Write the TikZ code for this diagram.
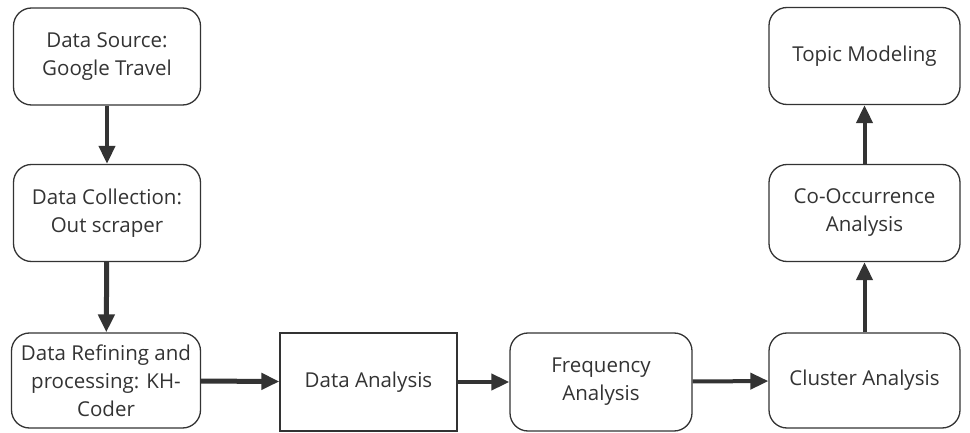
\documentclass[tikz,border=0pt]{standalone}
\usepackage{fontspec}
\setmainfont{Open Sans}
\usetikzlibrary{arrows.meta}
\definecolor{ink}{HTML}{333333}

\begin{document}
\begin{tikzpicture}
[x=1pt,y=-1pt,%
  every node/.style={draw=ink,line width=1.3pt,text=ink,align=center,%
    minimum width=187pt,minimum height=97pt,inner sep=2pt,%
    font=\fontsize{20.5}{28}\selectfont},%
  box/.style={rounded corners=18pt},%
  flow/.style={-{Triangle[length=18pt,width=16pt]},line width=4pt,draw=ink}]
\useasboundingbox (0,0) rectangle (970,433);
% left column, top to bottom
\node[box] (source) at (107,56.5) {Data Source:\\Google Travel};
\node[box] (collect) at (107,213) {Data Collection:\\Out scraper};
\node[box,minimum width=189pt,minimum height=95pt] (refine) at (106,380.5)
  {Data Refining and\\processing: KH-\\Coder};
% bottom row
\node[minimum width=177pt,minimum height=98pt] (analysis) at (368.5,382) {Data Analysis};
\node[box,minimum width=182pt,minimum height=98pt] (freq) at (601,382) {Frequency\\Analysis};
% right column, bottom to top
\node[box,minimum width=191pt,minimum height=95pt] (cluster) at (864.5,380.5) {Cluster Analysis};
\node[box,minimum width=191pt] (cooc) at (864.5,213) {Co-Occurrence\\Analysis};
\node[box,minimum width=191pt] (topic) at (864.5,56) {Topic Modeling};
% connectors
\draw[flow] (source) -- (collect);
\draw[flow,line width=5pt] (collect) -- (refine);
\draw[flow,line width=5pt] (refine) -- (analysis);
\draw[flow] (analysis) -- (freq);
\draw[flow] (freq) -- (cluster);
\draw[flow] (cluster) -- (cooc);
\draw[flow] (cooc) -- (topic);
\end{tikzpicture}
\end{document}
